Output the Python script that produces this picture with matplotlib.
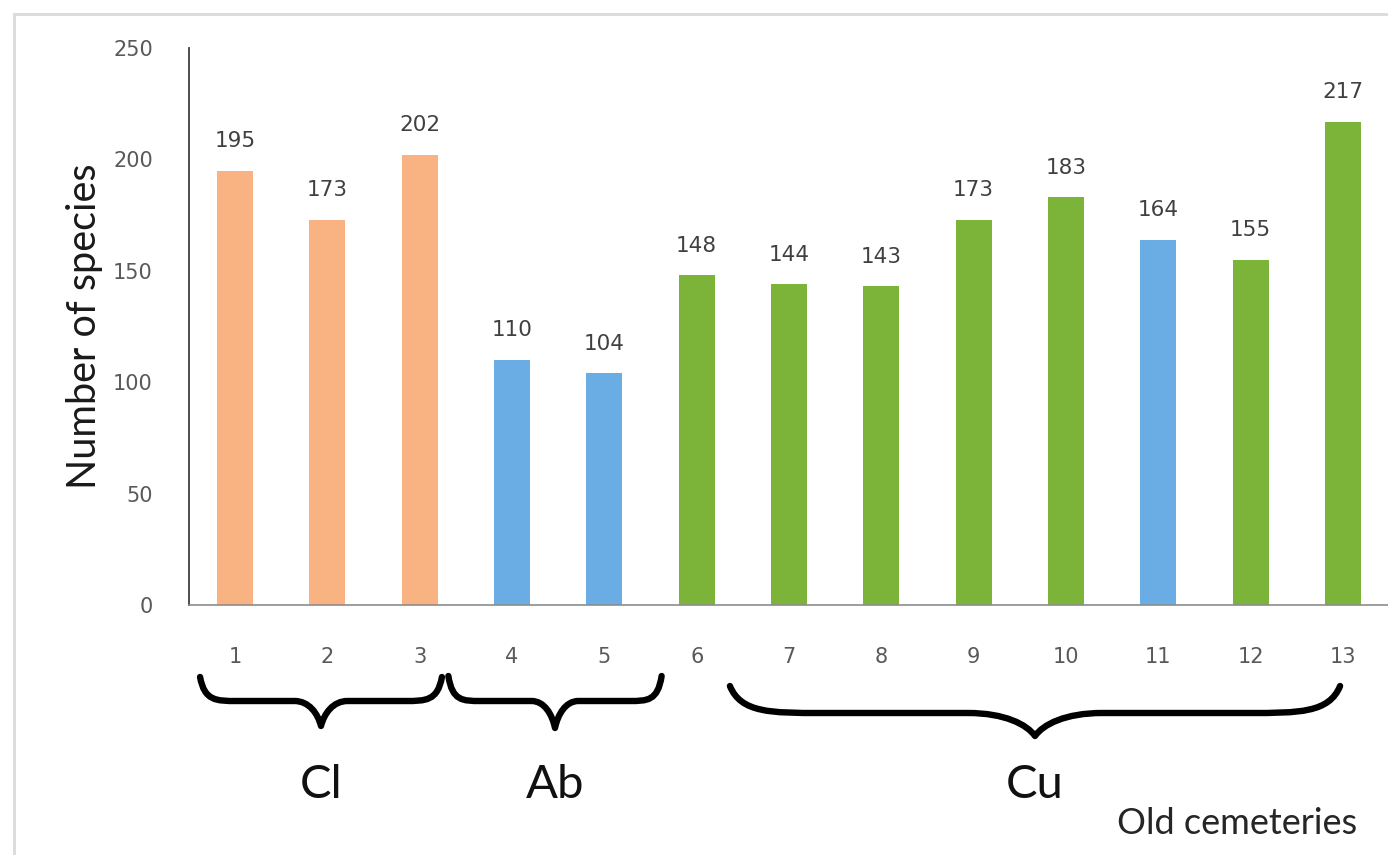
import matplotlib
matplotlib.use("Agg")
import matplotlib.pyplot as plt
from matplotlib.path import Path
from matplotlib.patches import PathPatch, Rectangle

# Species richness per old cemetery
cemeteries = [str(i) for i in range(1, 14)]
species = [195, 173, 202, 110, 104, 148, 144, 143, 173, 183, 164, 155, 217]
bar_colors = ["#F9B382", "#F9B382", "#F9B382",
              "#6AADE4", "#6AADE4",
              "#7CB43A", "#7CB43A", "#7CB43A", "#7CB43A", "#7CB43A",
              "#6AADE4", "#7CB43A", "#7CB43A"]

y_ticks = [0, 50, 100, 150, 200, 250]

# Group braces under the category axis: label, left and right extent
group_names = ["Cl", "Ab", "Cu"]
brace_left = [0.62, 3.31, 6.36]
brace_right = [3.24, 5.62, 12.97]

num_font = ["DejaVu Sans"]
txt_font = ["Lato", "DejaVu Sans"]

fig = plt.figure(figsize=(13.88, 8.55), dpi=100)
fig.patch.set_facecolor("white")

# light frame around the chart area
fig.patches.append(Rectangle((14 / 1388, -0.05), 1.2, 1 - 14 / 855 + 0.05,
                             transform=fig.transFigure, fill=False,
                             edgecolor="#DADADA", linewidth=2.0))

ax = fig.add_axes([189 / 1388, 1 - 605 / 855, 1200 / 1388, 557 / 855])

x = list(range(1, len(species) + 1))
ax.bar(x, species, width=0.39, color=bar_colors, zorder=2)

for xi, v in zip(x, species):
    ax.annotate(str(v), (xi, v), xytext=(0, 14), textcoords="offset points",
                ha="center", va="bottom", fontsize=15.5, color="#404040",
                family=num_font)

ax.set_xlim(0.5, 13.5)
ax.set_ylim(0, 250)
ax.set_yticks(y_ticks)
ax.set_xticks(x)
ax.set_xticklabels(cemeteries)
ax.tick_params(axis="both", length=0, labelsize=15, labelcolor="#595959")
ax.tick_params(axis="x", pad=30)
ax.tick_params(axis="y", pad=26)
for lab in ax.get_xticklabels() + ax.get_yticklabels():
    lab.set_family(num_font)

for side in ("top", "right"):
    ax.spines[side].set_visible(False)
ax.spines["left"].set_color("#404040")
ax.spines["left"].set_linewidth(1.3)
ax.spines["bottom"].set_color("#8C8C8C")
ax.spines["bottom"].set_linewidth(1.2)

ax.set_ylabel("Number of species", fontsize=28.5, family=txt_font,
              color="#1A1A1A")
ax.yaxis.set_label_coords(-0.072, 0.50)


def px_to_val(ypx):
    return (605 - ypx) / 557 * 250


def brace(x0, x1, y_end, y_flat, y_tip):
    xm = (x0 + x1) / 2
    w = x1 - x0
    a = 0.15 * w
    b = 0.11 * w
    y_mid = (y_flat + y_tip) / 2
    verts = [
        (x0, y_end),
        (x0 + a * 0.12, y_flat), (x0 + a * 0.45, y_flat), (x0 + a, y_flat),
        (xm - b, y_flat),
        (xm - b * 0.45, y_flat), (xm - b * 0.12, y_mid), (xm, y_tip),
        (xm + b * 0.12, y_mid), (xm + b * 0.45, y_flat), (xm + b, y_flat),
        (x1 - a, y_flat),
        (x1 - a * 0.45, y_flat), (x1 - a * 0.12, y_flat), (x1, y_end),
    ]
    codes = [Path.MOVETO,
             Path.CURVE4, Path.CURVE4, Path.CURVE4,
             Path.LINETO,
             Path.CURVE4, Path.CURVE4, Path.CURVE4,
             Path.CURVE4, Path.CURVE4, Path.CURVE4,
             Path.LINETO,
             Path.CURVE4, Path.CURVE4, Path.CURVE4]
    return Path(verts, codes)


brace_rows = [(677, 701, 726), (676, 701, 728), (686, 713, 736)]
label_px = 785
for name, x0, x1, (ye, yf, yt) in zip(group_names, brace_left, brace_right,
                                      brace_rows):
    p = brace(x0, x1, px_to_val(ye), px_to_val(yf), px_to_val(yt))
    ax.add_patch(PathPatch(p, fill=False, edgecolor="black", linewidth=4.6,
                           capstyle="round", joinstyle="round",
                           clip_on=False, zorder=3))
    ax.text((x0 + x1) / 2, px_to_val(label_px), name, ha="center",
            va="center", fontsize=34, family=txt_font, color="#111111",
            clip_on=False)

ax.text(11.85, px_to_val(823), "Old cemeteries", ha="center", va="center",
        fontsize=26, family=txt_font, color="#262626", clip_on=False)

fig.savefig("out.png", dpi=100, facecolor="white")
